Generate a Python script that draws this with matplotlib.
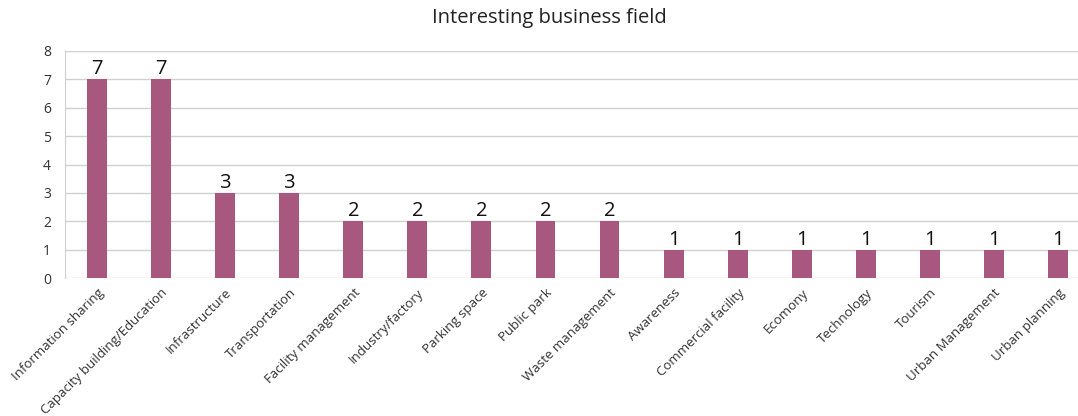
import matplotlib
matplotlib.use("Agg")
import matplotlib.pyplot as plt

categories = [
    "Information sharing", "Capacity building/Education", "Infrastructure",
    "Transportation", "Facility management", "Industry/factory", "Parking space",
    "Public park", "Waste management", "Awareness", "Commercial facility",
    "Ecomony", "Technology", "Tourism", "Urban Management", "Urban planning",
]
counts = [7, 7, 3, 3, 2, 2, 2, 2, 2, 1, 1, 1, 1, 1, 1, 1]
y_ticks = [0, 1, 2, 3, 4, 5, 6, 7, 8]

plt.rcParams["font.family"] = ["Open Sans", "DejaVu Sans"]

fig = plt.figure(figsize=(10.78, 4.16), dpi=100)
ax = fig.add_axes([65 / 1078, 1 - 278 / 416, 1025 / 1078, 227 / 416])

x = list(range(len(categories)))
bars = ax.bar(x, counts, width=0.31, color="#a8587e", zorder=3)
ax.bar_label(bars, labels=[str(c) for c in counts], padding=0, fontsize=14.5, color="#111111")

ax.set_xlim(-0.5, len(categories) - 0.5)
ax.set_ylim(0, 8)
ax.set_yticks(y_ticks)
ax.set_xticks(x)
ax.set_xticklabels(categories, rotation=45, ha="right", rotation_mode="anchor", fontsize=9.5, color="#333333")
ax.tick_params(axis="y", length=0, labelsize=10, labelcolor="#333333", pad=10)
ax.tick_params(axis="x", length=0, pad=6)
ax.grid(axis="y", color="#d0d0d0", linewidth=1, zorder=0)
for s in ["top", "right", "bottom"]:
    ax.spines[s].set_visible(False)
ax.spines["left"].set_color("#d0d0d0")

fig.suptitle("Interesting business field", x=0.51, y=0.98, fontsize=14.5, color="#222222")

fig.savefig("out.png", dpi=100)
